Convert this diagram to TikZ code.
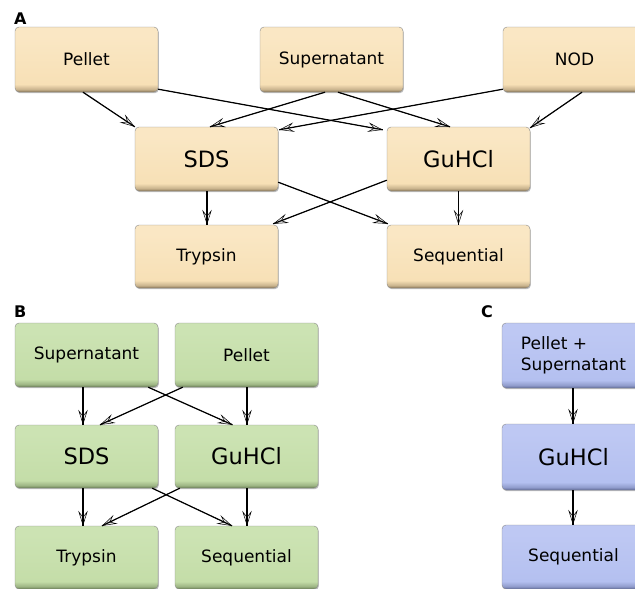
\documentclass[tikz,border=0pt]{standalone}
\usepackage{fontspec}
\setmainfont{DejaVu Sans}
\usetikzlibrary{arrows.meta,shadows}
\definecolor{tanbase}{HTML}{F7E0B6}
\definecolor{tanlt}{HTML}{FAE7C4}
\definecolor{tandk}{HTML}{8E7A5A}
\definecolor{grnbase}{HTML}{C4DDA8}
\definecolor{grnlt}{HTML}{CCE3B3}
\definecolor{grndk}{HTML}{6C8256}
\definecolor{blubase}{HTML}{B4C0F0}
\definecolor{blult}{HTML}{BEC8F3}
\definecolor{bludk}{HTML}{636E9E}
% the path's height maps onto 25bp..75bp of the shading
\pgfdeclareverticalshading{shA}{100bp}{color(0bp)=(tandk); color(25.3bp)=(tandk); color(27bp)=(tanbase!55!tandk); color(31bp)=(tanbase); color(68bp)=(tanlt); color(100bp)=(tanlt)}
\pgfdeclareverticalshading{shB}{100bp}{color(0bp)=(grndk); color(25.3bp)=(grndk); color(27bp)=(grnbase!55!grndk); color(31bp)=(grnbase); color(68bp)=(grnlt); color(100bp)=(grnlt)}
\pgfdeclareverticalshading{shC}{100bp}{color(0bp)=(bludk); color(25.3bp)=(bludk); color(27bp)=(blubase!55!bludk); color(31bp)=(blubase); color(68bp)=(blult); color(100bp)=(blult)}
\tikzset{
  box/.style={rectangle, rounded corners=4pt, minimum width=143pt, minimum height=64pt,
    inner sep=0pt, draw=black!45, line width=0.4pt,
    drop shadow={shadow xshift=0.8pt, shadow yshift=-1.2pt, fill=black, opacity=0.25},
    font=\fontsize{17}{21}\selectfont},
  boxA/.style={box, shading=shA},
  boxB/.style={box, shading=shB},
  boxC/.style={box, shading=shC},
  big/.style={font=\fontsize{22.5}{26}\selectfont},
  flow/.style={line width=1.2pt, black,
    preaction={draw, -{Stealth[fill=black!8, length=15pt, width=9.5pt, inset=6pt, line width=0.5pt]}}},
  plabel/.style={font=\bfseries\fontsize{16}{18}\selectfont, anchor=base west, inner sep=0pt}
}
\begin{document}
\begin{tikzpicture}[x=1pt,y=-1pt]
\useasboundingbox (0,0) rectangle (635,589);
% labels
\node[plabel] (lA) at (14,24) {A};
\node[plabel] (lB) at (14,317) {B};
\node[plabel] (lC) at (481,317) {C};
% Panel A
\node[boxA, minimum height=65pt] (Apel) at (86.5,59.5) {Pellet};
\node[boxA, minimum height=65pt] (Asup) at (331.5,59.5) {Supernatant};
\node[boxA, minimum height=65pt] (Anod) at (574.5,59.5) {NOD};
\node[boxA, big] (Asds) at (206.5,159) {SDS};
\node[boxA, big] (Agu) at (458.5,159) {GuHCl};
\node[boxA, minimum height=63pt] (Atry) at (206.5,256.5) {Trypsin};
\node[boxA, minimum height=63pt] (Aseq) at (458.5,256.5) {Sequential};
% Panel B
\node[boxB] (Bsup) at (86.5,355) {Supernatant};
\node[boxB] (Bpel) at (246.5,355) {Pellet};
\node[boxB, big, minimum height=63pt] (Bsds) at (86.5,456.5) {SDS};
\node[boxB, big, minimum height=63pt] (Bgu) at (246.5,456.5) {GuHCl};
\node[boxB, minimum height=63pt] (Btry) at (86.5,557.5) {Trypsin};
\node[boxB, minimum height=63pt] (Bseq) at (246.5,557.5) {Sequential};
% Panel C
\node[boxC, minimum height=65pt, align=left] (Cps) at (573.5,355.5) {Pellet +\\Supernatant};
\node[boxC, big, minimum height=66pt] (Cgu) at (573.5,457) {GuHCl};
\node[boxC, minimum height=64pt] (Cseq) at (573.5,557) {Sequential};
% Connectors A
\draw[flow] ([xshift=-3.5pt]Apel.south) -- (Asds.north west);
\draw[flow] ([yshift=3pt]Apel.south east) -- ([shift={(-4pt,-3pt)}]Agu.north west);
\draw[flow] ([xshift=-6.5pt]Asup.south) -- ([xshift=3.5pt]Asds.north);
\draw[flow] ([xshift=6.5pt]Asup.south) -- ([xshift=-8.5pt]Agu.north);
\draw[flow] ([yshift=3pt]Anod.south west) -- ([shift={(1pt,-3pt)}]Asds.north east);
\draw[flow] ([xshift=7.5pt]Anod.south) -- ([yshift=-1pt]Agu.north east);
\draw[flow] ([xshift=0.5pt]Asds.south) -- ([xshift=0.5pt]Atry.north);
\draw[flow] ([yshift=9pt]Asds.south east) -- ([xshift=1pt,yshift=1pt]Aseq.north west);
\draw[flow] ([yshift=11pt]Agu.south west) -- ([xshift=-5pt,yshift=1pt]Atry.north east);
\draw[flow] (Agu.south) -- (Aseq.north);
% Connectors B
\draw[flow] ([xshift=-3.5pt]Bsup.south) -- ([xshift=-3.5pt]Bsds.north);
\draw[flow] ([xshift=-10pt]Bsup.south east) -- ([xshift=-14pt]Bgu.north);
\draw[flow] ([xshift=8pt]Bpel.south west) -- ([xshift=13.5pt]Bsds.north);
\draw[flow] ([xshift=0.5pt]Bpel.south) -- ([xshift=0.5pt]Bgu.north);
\draw[flow] ([xshift=-3.5pt]Bsds.south) -- ([xshift=-3.5pt]Btry.north);
\draw[flow] ([xshift=-6pt]Bsds.south east) -- ([xshift=-14.5pt]Bseq.north);
\draw[flow] ([xshift=5pt]Bgu.south west) -- ([xshift=15.5pt]Btry.north);
\draw[flow] ([xshift=0.5pt]Bgu.south) -- ([xshift=0.5pt]Bseq.north);
% Connectors C
\draw[flow] ([xshift=-0.5pt]Cps.south) -- ([xshift=-0.5pt]Cgu.north);
\draw[flow] ([xshift=-0.5pt]Cgu.south) -- ([xshift=-0.5pt]Cseq.north);
\end{tikzpicture}
\end{document}
